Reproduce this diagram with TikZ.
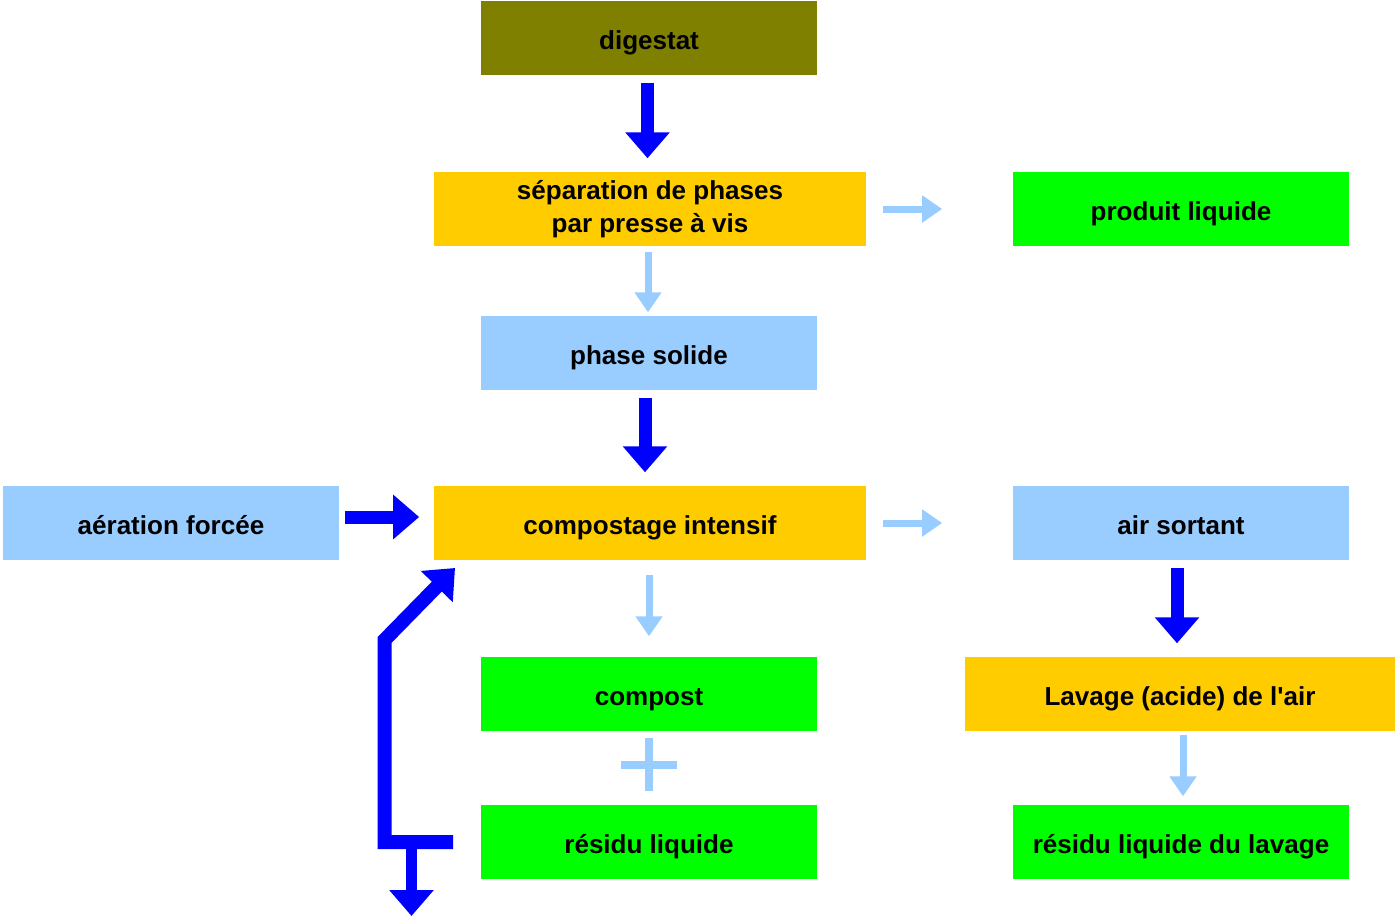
\documentclass[tikz,border=0pt]{standalone}
\usepackage{fontspec}
\setmainfont{Liberation Sans}
\usetikzlibrary{arrows.meta,calc}
\definecolor{olivebox}{HTML}{808000}
\definecolor{orangebox}{HTML}{FFCC00}
\definecolor{greenbox}{HTML}{00FF00}
\definecolor{bluebox}{HTML}{99CCFF}
\definecolor{darkarrow}{HTML}{0000FF}
\begin{document}
\begin{tikzpicture}[x=0.01cm,y=-0.01cm,
  basebox/.style={draw=none,minimum height=0.74cm,inner sep=0pt,align=center,
    font=\fontsize{7.4pt}{9.4pt}\selectfont\bfseries},
  box/.style={basebox,text height=0.29cm,text depth=0.06cm},
  narrowbox/.style={box,minimum width=3.36cm},
  widebox/.style={box,minimum width=4.32cm},
  thickarrow/.style={draw=darkarrow,line width=0.13cm,
    -{Triangle[length=0.26cm,width=0.43cm]}},
  lightarrow/.style={draw=bluebox,line width=0.07cm,
    -{Triangle[length=0.2cm,width=0.26cm]}},
]
\useasboundingbox (0,0) rectangle (1395,918);

\node[narrowbox,fill=olivebox] (dig) at (649,38) {digestat};
\node[basebox,minimum width=4.32cm,fill=orangebox] (sep) at (650,209) {séparation de phases\\par presse à vis};
\node[narrowbox,fill=greenbox] (prod) at (1181,209) {produit liquide};
\node[narrowbox,fill=bluebox] (sol) at (649,353) {phase solide};
\node[narrowbox,fill=bluebox] (aer) at (171,523) {aération forcée};
\node[widebox,fill=orangebox] (comp) at (650,523) {compostage intensif};
\node[narrowbox,fill=bluebox] (air) at (1181,523) {air sortant};
\node[narrowbox,fill=greenbox] (cpt) at (649,694) {compost};
\node[box,minimum width=4.30cm,fill=orangebox] (lav) at (1180,694) {Lavage (acide) de l\textquotesingle air};
\node[narrowbox,fill=greenbox] (res) at (649,842) {résidu liquide};
\node[narrowbox,fill=greenbox] (resl) at (1181,842) {résidu liquide du lavage};

% connectors
\draw[thickarrow,shorten <=0.07cm,shorten >=0.13cm] ($(dig.south)+(-1.5,0)$) -- ($(sep.north)+(-2.5,0)$);
\draw[lightarrow,shorten <=0.05cm,shorten >=0.03cm] ($(sep.south)+(-2,0)$) -- ($(sol.north)+(-1,0)$);
\draw[lightarrow,shorten <=0.16cm,shorten >=0.70cm] (sep.east |- prod.west) -- (prod.west);
\draw[thickarrow,shorten <=0.07cm,shorten >=0.13cm] ($(sol.south)+(-4,0)$) -- ($(comp.north)+(-5,0)$);
\draw[thickarrow,shorten <=0.05cm,shorten >=0.14cm] ($(aer.east)+(0,-6)$) -- ($(comp.west)+(0,-6)$);
\draw[lightarrow,shorten <=0.16cm,shorten >=0.70cm] (comp.east) -- (air.west);
\draw[lightarrow,shorten <=0.14cm,shorten >=0.20cm] ($(comp.south)+(-1,0)$) -- (cpt.north);
\draw[thickarrow,shorten <=0.07cm,shorten >=0.13cm] ($(air.south)+(-4,0)$) -- ($(lav.north)+(-3,0)$);
\draw[lightarrow,shorten <=0.03cm,shorten >=0.08cm] ($(lav.south)+(3,0)$) -- ($(resl.north)+(2,0)$);

% plus sign
\draw[draw=bluebox,line width=0.08cm] (649,738) -- (649,791) (621,765) -- (677,765);

% feedback path
\coordinate (fbtip) at (455,568);
\coordinate (fbturn) at (384.5,640);
\coordinate (fbcorner) at (res.west -| fbturn);
\coordinate (dstart) at (411.5,849);
\coordinate (dend) at (411.5,916);
\draw[thickarrow,line width=0.14cm,line join=miter,shorten <=0.27cm] (res.west) -- (fbcorner) -- (fbturn) -- (fbtip);
\draw[thickarrow,line width=0.11cm] (dstart) -- (dend);
\end{tikzpicture}
\end{document}
